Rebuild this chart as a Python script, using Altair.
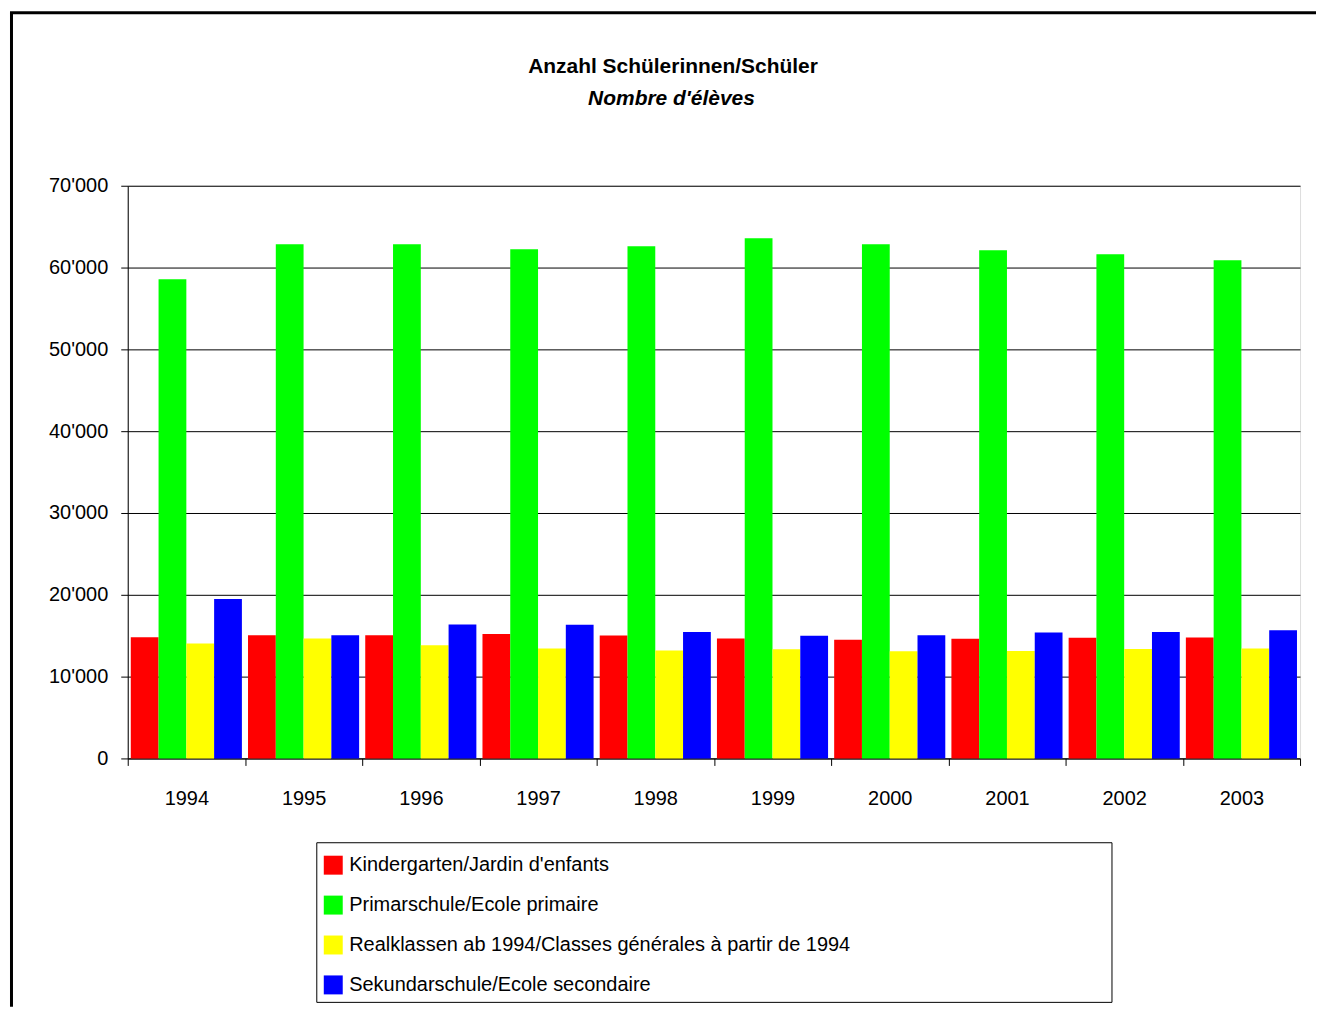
import altair as alt
import pandas as pd

years = ["1994", "1995", "1996", "1997", "1998", "1999", "2000", "2001", "2002", "2003"]
series = [
    "Kindergarten/Jardin d'enfants",
    "Primarschule/Ecole primaire",
    "Realklassen ab 1994/Classes générales à partir de 1994",
    "Sekundarschule/Ecole secondaire",
]
kindergarten = [14800, 15070, 15070, 15200, 15040, 14670, 14510, 14630, 14760, 14790]
primar = [58570, 62840, 62840, 62230, 62600, 63570, 62840, 62110, 61620, 60890]
real = [14060, 14670, 13820, 13450, 13200, 13330, 13090, 13120, 13370, 13450]
sekundar = [19500, 15070, 16380, 16340, 15440, 15000, 15070, 15400, 15440, 15680]
colors = ["#FF0000", "#00FF00", "#FFFF00", "#0000FF"]
y_ticks = [0, 10000, 20000, 30000, 40000, 50000, 60000, 70000]
title_1 = "Anzahl Schülerinnen/Schüler"
title_2 = "Nombre d'élèves"

rows = []
for s, vals in zip(series, [kindergarten, primar, real, sekundar]):
    for yr, v in zip(years, vals):
        rows.append({"Jahr": yr, "Serie": s, "Wert": v})
df = pd.DataFrame(rows)

FONT = "Liberation Sans Narrow, Arial Narrow, Liberation Sans, Arial, sans-serif"
FS = 20
W, H = 1175, 574

bars = alt.Chart(df).mark_bar().encode(
    x=alt.X("Jahr:N", sort=years, title=None,
            scale=alt.Scale(paddingInner=0, paddingOuter=0),
            axis=alt.Axis(labelAngle=0, tickBand="extent", tickSize=7, tickColor="black",
                          domainColor="black", labelFontSize=FS, labelFont=FONT,
                          labelColor="black", labelPadding=23, grid=False)),
    xOffset=alt.XOffset("Serie:N", sort=series,
                        scale=alt.Scale(paddingInner=0, paddingOuter=0.11)),
    y=alt.Y("Wert:Q", title=None,
            scale=alt.Scale(domain=[0, 70000], nice=False),
            axis=alt.Axis(values=y_ticks, tickSize=7, tickColor="black", domainColor="black",
                          gridColor="black", gridOpacity=1, labelFontSize=FS, labelFont=FONT,
                          labelColor="black", labelPadding=13,
                          labelExpr="replace(format(datum.value, ','), ',', \"'\")")),
    color=alt.Color("Serie:N", sort=series,
                    scale=alt.Scale(domain=series, range=colors),
                    legend=alt.Legend(title=None, orient="none", legendX=196, legendY=671,
                                      symbolType="square", symbolSize=361, symbolStrokeWidth=0,
                                      symbolOpacity=1, labelFontSize=FS, labelFont=FONT,
                                      labelColor="black", labelOffset=6, rowPadding=20,
                                      labelLimit=800, padding=0)),
)

one = pd.DataFrame([{"k": 1}])

legend_box = alt.Chart(one).mark_rect(fill="white", stroke="black", strokeWidth=1).encode(
    x=alt.value(189.5), x2=alt.value(986.5), y=alt.value(658.5), y2=alt.value(818.5)
)

frame_left = alt.Chart(one).mark_rule(color="black", strokeWidth=3).encode(
    x=alt.value(-116.5), y=alt.value(-173.5), y2=alt.value(823)
)
frame_top = alt.Chart(one).mark_rule(color="black", strokeWidth=3).encode(
    x=alt.value(-118), x2=alt.value(1191), y=alt.value(-173.5)
)

t1 = alt.Chart(one).mark_text(text=title_1, font=FONT, fontSize=21, fontWeight="bold",
                              color="black", baseline="middle").encode(
    x=alt.value(546.5), y=alt.value(-119)
)
t2 = alt.Chart(one).mark_text(text=title_2, font=FONT, fontSize=21, fontWeight="bold",
                              fontStyle="italic", color="black", baseline="middle").encode(
    x=alt.value(545), y=alt.value(-87)
)

chart = alt.layer(legend_box, bars, frame_left, frame_top, t1, t2).properties(
    width=W, height=H,
    padding={"left": 0, "top": 2, "right": 0, "bottom": 0},
).configure_view(stroke=None).configure(background="white")

chart.save("out.html", embed_options={"renderer": "svg", "actions": False})
